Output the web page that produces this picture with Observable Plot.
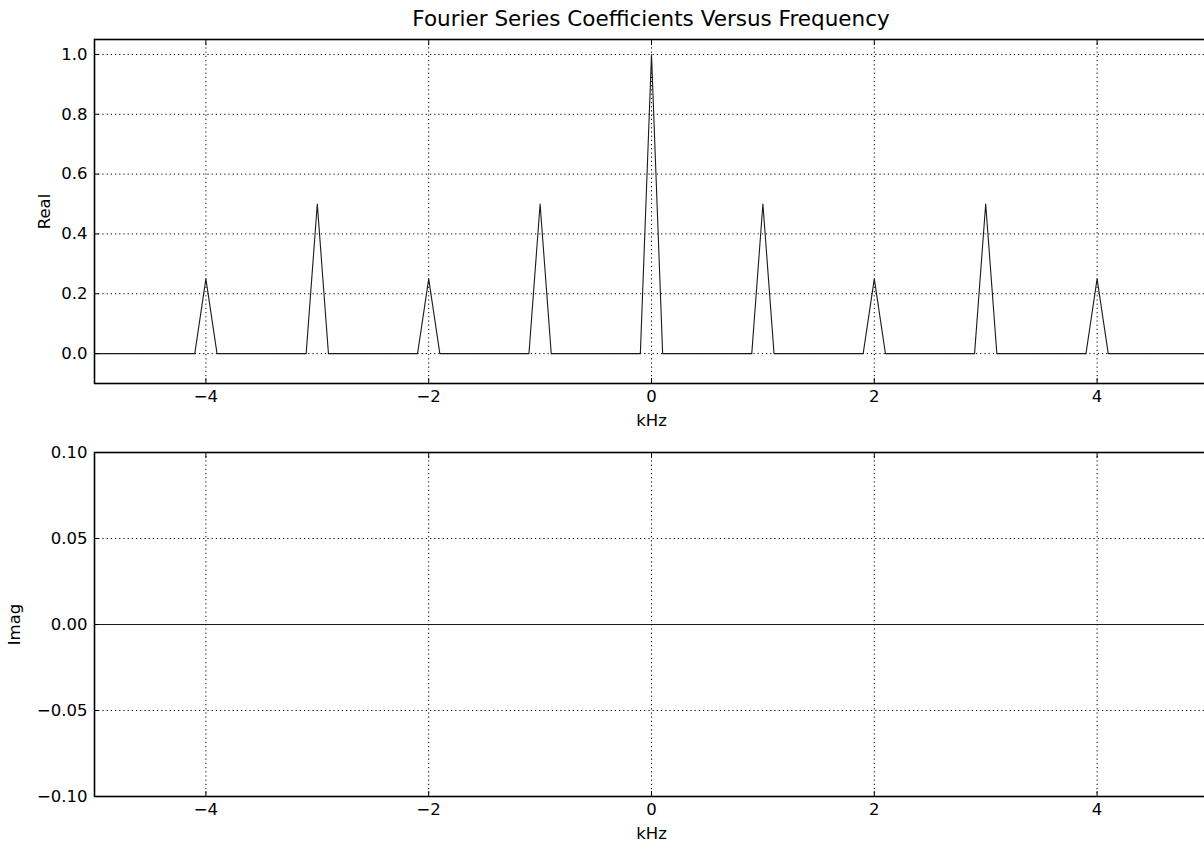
<!DOCTYPE html>
<html>
<head>
<meta charset="utf-8">
<script src="https://cdn.jsdelivr.net/npm/d3@7"></script>
<script src="https://cdn.jsdelivr.net/npm/@observablehq/plot@0.6"></script>
<style>
  html, body { margin: 0; padding: 0; background: #fff; overflow: hidden; }
  #wrap { position: relative; width: 1215px; height: 847px; font-family: "DejaVu Sans", sans-serif; }
  #title { position: absolute; top: 6px; left: 94px; width: 1114px; text-align: center; font-size: 21.5px; line-height: normal; color: #000; z-index: 2; }
  .panel { position: absolute; left: 0; }
</style>
</head>
<body>
<div id="wrap">
  <div id="top" class="panel" style="top:0"></div>
  <div id="bottom" class="panel" style="top:420px"></div>
  <div id="title">Fourier Series Coefficients Versus Frequency</div>
</div>
<script>
// Sampled spectrum: frequency (kHz) and the real / imaginary parts of the coefficients
const kHz  = [-5, -4.1, -4, -3.9, -3.1, -3, -2.9, -2.1, -2, -1.9, -1.1, -1, -0.9, -0.1, 0, 0.1,
              0.9, 1, 1.1, 1.9, 2, 2.1, 2.9, 3, 3.1, 3.9, 4, 4.1, 5];
const real = [0, 0, 0.25, 0, 0, 0.5, 0, 0, 0.25, 0, 0, 0.5, 0, 0, 1.0, 0,
              0, 0.5, 0, 0, 0.25, 0, 0, 0.5, 0, 0, 0.25, 0, 0];
const imag = [0, 0, 0, 0, 0, 0, 0, 0, 0, 0, 0, 0, 0, 0, 0, 0,
              0, 0, 0, 0, 0, 0, 0, 0, 0, 0, 0, 0, 0];

// Tick positions
const xTicks = [-4, -2, 0, 2, 4];
const realTicks = [0.0, 0.2, 0.4, 0.6, 0.8, 1.0];
const imagTicks = [-0.10, -0.05, 0.00, 0.05, 0.10];

const W = 1215;
const rows = kHz.map((f, i) => ({f, re: real[i], im: imag[i]}));
const gridStyle = {stroke: "#000", strokeOpacity: 1, strokeWidth: 1, strokeDasharray: "1.2,3"};
const style = {fontFamily: "DejaVu Sans, sans-serif", fontSize: "16.5px", color: "#000", background: "transparent", overflow: "visible"};
const fx = d3.format("d");

function panel({height, marginTop, marginBottom, yDomain, yTicks, yFormat, yField, yLabel, yLabelOffset, xLabelOffset}) {
  return Plot.plot({
    width: W, height,
    marginLeft: 94, marginRight: W - 1208, marginTop, marginBottom,
    style,
    x: {domain: [-5, 5]},
    y: {domain: yDomain},
    marks: [
      Plot.gridX(xTicks, gridStyle),
      Plot.gridY(yTicks, gridStyle),
      Plot.line(rows, {x: "f", y: yField, stroke: "#1a1a1a", strokeWidth: 1.1}),
      Plot.frame({stroke: "#000", strokeWidth: 1.6}),
      // inward tick marks on all four sides
      Plot.axisX(xTicks, {anchor: "bottom", tickSize: -5, tickPadding: 12, tickFormat: fx,
        label: "kHz", labelAnchor: "center", labelArrow: "none", labelOffset: xLabelOffset}),
      Plot.axisX(xTicks, {anchor: "top", tickSize: -5, tickFormat: () => "", label: null}),
      Plot.axisY(yTicks, {anchor: "left", tickSize: -5, tickPadding: 12, tickFormat: yFormat,
        label: yLabel, labelAnchor: "center", labelArrow: "none", labelOffset: yLabelOffset}),
      Plot.axisY(yTicks, {anchor: "right", tickSize: -5, tickFormat: () => "", label: null})
    ]
  });
}

document.getElementById("top").append(panel({
  height: 420, marginTop: 39, marginBottom: 37,
  yDomain: [-0.1, 1.05], yTicks: realTicks, yFormat: d3.format(".1f"),
  yField: "re", yLabel: "Real", yLabelOffset: 56, xLabelOffset: 42
}));

document.getElementById("bottom").append(panel({
  height: 427, marginTop: 32, marginBottom: 51,
  yDomain: [-0.1, 0.1], yTicks: imagTicks, yFormat: d3.format(".2f"),
  yField: "im", yLabel: "Imag", yLabelOffset: 86, xLabelOffset: 42
}));
</script>
</body>
</html>
